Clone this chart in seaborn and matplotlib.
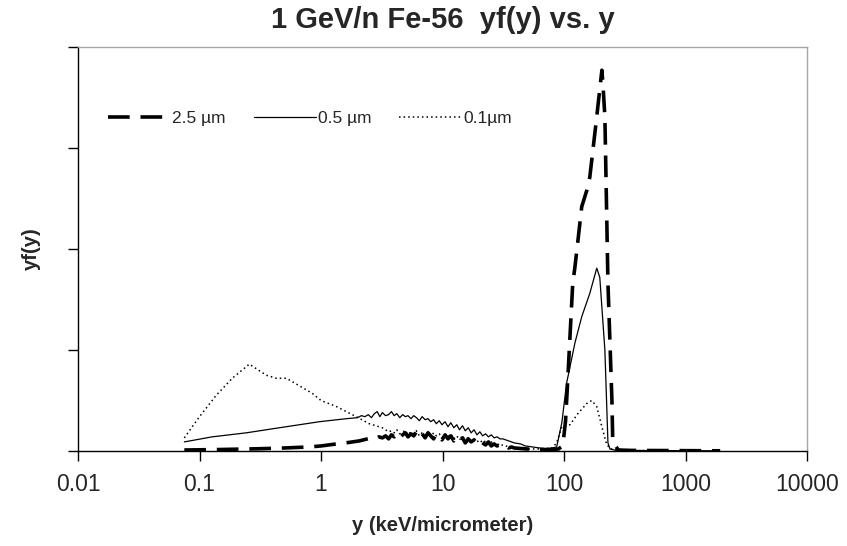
import matplotlib
matplotlib.use("Agg")
import matplotlib.pyplot as plt
import seaborn as sns
import pandas as pd

# ---------------- data (y in keV/um, yf(y) in arbitrary units) ----------------
x_25 = [0.075, 0.1, 0.15, 0.2, 0.3, 0.5, 0.8, 1.0, 1.34, 1.7, 2.07,
        2.6, 2.8, 3.0, 3.2, 3.4, 3.6, 3.8, 4.0, 4.2, 4.45, 4.7, 4.95, 5.2, 5.5, 5.8,
        6.1, 6.45, 6.8, 7.2, 7.6, 8.0, 8.45, 8.9, 9.4, 9.9, 10.5, 11.1, 11.7, 12.4,
        13.1, 13.8, 14.6, 15.4, 16.3, 17.2, 18.2, 19.2, 20.3, 21.4, 22.6, 23.9, 25.2,
        26.6, 28.1, 29.7, 31.4, 33.2, 35, 37, 39,
        44, 50, 60, 70, 80, 90, 97.7, 103, 107, 118, 123, 140, 154,
        163, 186, 205, 209, 217, 230, 248, 252, 280, 350, 500, 800, 1200, 1930]
y_25 = [0.01, 0.012, 0.015, 0.018, 0.022, 0.03, 0.04, 0.05, 0.07, 0.085, 0.1,
        0.13, 0.12, 0.14, 0.13, 0.15, 0.12, 0.16, 0.14, 0.17, 0.13, 0.16, 0.18, 0.14,
        0.17, 0.15, 0.19, 0.14, 0.17, 0.13, 0.18, 0.15, 0.12, 0.17, 0.14, 0.11, 0.16,
        0.12, 0.15, 0.10, 0.14, 0.11, 0.13, 0.08, 0.12, 0.09, 0.11, 0.07, 0.10, 0.08,
        0.06, 0.09, 0.05, 0.07, 0.05, 0.06, 0.04, 0.05, 0.03, 0.04, 0.03,
        0.025, 0.02, 0.015, 0.012, 0.015, 0.02, 0.05, 0.3, 0.67, 1.66, 1.82, 2.42, 2.58,
        2.71, 3.31, 3.77, 3.64, 3.31, 1.66, 0.5, 0.09, 0.01, 0.006, 0.005, 0.004, 0.003,
        0.002]

x_05 = [0.075, 0.127, 0.243, 0.454, 0.97, 1.62,
        2.0, 2.15, 2.3, 2.45, 2.6, 2.75, 2.9, 3.05, 3.2, 3.4, 3.6, 3.8, 4.0, 4.2, 4.45,
        4.7, 4.95, 5.2, 5.5, 5.8, 6.1, 6.45, 6.8, 7.2, 7.6, 8.0, 8.45, 8.9, 9.4, 9.9,
        10.5, 11.1, 11.7, 12.4, 13.1, 13.8, 14.6, 15.4, 16.3, 17.2, 18.2, 19.2, 20.3,
        21.4, 22.6, 23.9, 25.2, 26.6, 28.1, 29.7, 31.4, 33.2, 35, 37, 39,
        44, 48, 55, 63, 72, 80, 87, 96, 105, 123, 140, 163, 186,
        197, 217, 230, 239, 260, 350, 600, 1000, 1900]
y_05 = [0.09, 0.14, 0.18, 0.23, 0.29, 0.32,
        0.33, 0.35, 0.34, 0.36, 0.33, 0.37, 0.39, 0.34, 0.38, 0.35, 0.36, 0.39, 0.35,
        0.37, 0.33, 0.36, 0.34, 0.35, 0.32, 0.35, 0.33, 0.30, 0.34, 0.31, 0.32, 0.29,
        0.31, 0.27, 0.30, 0.26, 0.29, 0.24, 0.28, 0.23, 0.26, 0.21, 0.25, 0.20, 0.23,
        0.18, 0.21, 0.16, 0.19, 0.15, 0.17, 0.14, 0.16, 0.13, 0.14, 0.12, 0.12, 0.11,
        0.10, 0.09, 0.08,
        0.07, 0.05, 0.04, 0.03, 0.025, 0.03, 0.04, 0.28, 0.67, 1.07, 1.33, 1.56, 1.81,
        1.72, 1.0, 0.08, 0.02, 0.01, 0.006, 0.004, 0.003, 0.002]

x_01 = [0.075, 0.1, 0.137, 0.186, 0.257, 0.355, 0.43, 0.52, 0.85, 1.0, 1.34, 1.95, 2.5,
        3.2, 3.4, 3.6, 3.8, 4.0, 4.2, 4.45, 4.7, 4.95, 5.2, 5.5, 5.8, 6.1, 6.45, 6.8,
        7.2, 7.6, 8.0, 8.45, 8.9, 9.4, 9.9, 10.5, 11.1, 11.7, 12.4, 13.1, 13.8, 14.6,
        15.4, 16.3, 17.2, 18.2, 19.2, 20.3, 21.4, 22.6, 23.9, 25.2, 26.6, 28.1, 29.7,
        31.4, 33.2, 35, 37, 39,
        44, 52, 60, 70, 80, 87, 96, 112, 130, 154, 169, 186,
        205, 225, 252, 300, 500, 900]
y_01 = [0.13, 0.34, 0.55, 0.72, 0.86, 0.75, 0.72, 0.72, 0.57, 0.5, 0.44, 0.34, 0.27,
        0.23, 0.21, 0.19, 0.2, 0.18, 0.21, 0.17, 0.19, 0.2, 0.16, 0.19, 0.17, 0.2, 0.15,
        0.18, 0.16, 0.19, 0.14, 0.18, 0.15, 0.17, 0.13, 0.16, 0.14, 0.17, 0.12, 0.15,
        0.11, 0.14, 0.12, 0.13, 0.10, 0.12, 0.09, 0.11, 0.08, 0.10, 0.07, 0.09, 0.06,
        0.08, 0.05, 0.06, 0.05, 0.04, 0.04, 0.03,
        0.025, 0.02, 0.02, 0.025, 0.03, 0.08, 0.24, 0.26, 0.37, 0.47, 0.5, 0.44,
        0.24, 0.06, 0.01, 0.004, 0.003, 0.002]

labels = ["2.5 µm", "0.5 µm", "0.1µm"]
x_ticks = [0.01, 0.1, 1, 10, 100, 1000, 10000]
x_tick_labels = ["0.01", "0.1", "1", "10", "100", "1000", "10000"]

# ---------------- style ----------------
sns.set_style("white")
plt.rcParams["font.family"] = ["Liberation Sans", "DejaVu Sans"]

fig = plt.figure(figsize=(8.47, 5.46), dpi=100)
ax = fig.add_axes([78 / 847, 1 - 451 / 546, (807 - 78) / 847, (451 - 47) / 546])

styles = [
    dict(lw=2.6, dashes=(6, 3)),
    dict(lw=0.9, linestyle="-"),
    dict(lw=1.1, dashes=(1, 2)),
]
for xs, ys, lab, st in zip([x_25, x_05, x_01], [y_25, y_05, y_01], labels, styles):
    df = pd.DataFrame({"y": xs, "yf": ys})
    line_kw = {"lw": st["lw"]}
    if "dashes" in st:
        line_kw["dashes"] = st["dashes"]
    else:
        line_kw["linestyle"] = st["linestyle"]
    sns.lineplot(data=df, x="y", y="yf", ax=ax, color="black", label=lab,
                 estimator=None, sort=False, **line_kw)

ax.set_xscale("log")
ax.set_xlim(0.01, 10000)
ax.set_ylim(0, 4)
ax.set_xticks(x_ticks)
ax.set_xticklabels(x_tick_labels)
ax.xaxis.set_minor_locator(matplotlib.ticker.NullLocator())
ax.set_yticks([0, 1, 2, 3, 4])
ax.set_yticklabels([])
ax.tick_params(axis="x", which="major", direction="out", length=7, width=1,
               color="black", labelsize=16.5, pad=9, bottom=True)
ax.tick_params(axis="y", which="major", direction="out", length=7, width=1,
               color="black", left=True)

for side in ["left", "bottom"]:
    ax.spines[side].set_color("black")
    ax.spines[side].set_linewidth(1.0)
for side in ["top", "right"]:
    ax.spines[side].set_color("#a6a6a6")
    ax.spines[side].set_linewidth(1.0)

ax.set_xlabel("y (keV/micrometer)", fontsize=14.5, fontweight="bold", labelpad=14)
ax.set_ylabel("yf(y)", fontsize=14.5, fontweight="bold", labelpad=16)
ax.set_title("1 GeV/n Fe-56  yf(y) vs. y", fontsize=21, fontweight="bold", pad=14)

ax.legend(loc="center left", bbox_to_anchor=(0.02, 0.824), ncol=3, frameon=False,
          fontsize=12.5, handlelength=3.6, handletextpad=0.1, columnspacing=1.6)

fig.savefig("out.png", dpi=100)
